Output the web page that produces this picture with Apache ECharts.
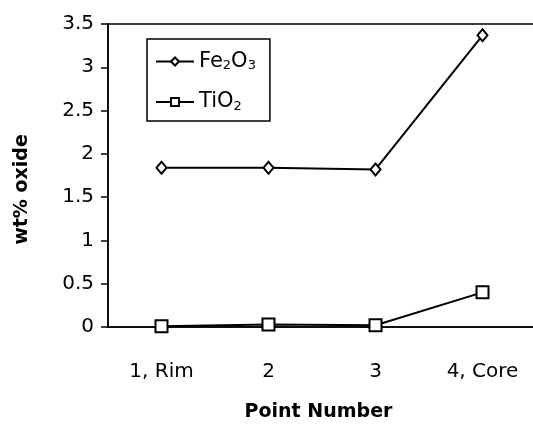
<!DOCTYPE html>
<html><head><meta charset="utf-8">
<script src="https://cdn.jsdelivr.net/npm/echarts@6/dist/echarts.min.js"></script>
<style>html,body{margin:0;padding:0;background:#fff}#c{width:533px;height:424px}</style>
</head><body><div id="c"></div>
<script>
var categories = ['1, Rim', '2', '3', '4, Core'];
var fe2o3 = [1.84, 1.84, 1.82, 3.37];
var tio2 = [0.01, 0.03, 0.02, 0.40];
var yTicks = [0, 0.5, 1, 1.5, 2, 2.5, 3, 3.5];

var chart = echarts.init(document.getElementById('c'));
var font = 'DejaVu Sans, Verdana, sans-serif';
chart.setOption({
  animation: false,
  backgroundColor: '#fff',
  grid: {left: 108, width: 428, top: 24, height: 303, show: true, borderColor: '#000', borderWidth: 1.5,
    outerBoundsMode: 'none', containLabel: false},
  legend: {
    orient: 'vertical', left: 147, top: 39,
    borderColor: '#000', borderWidth: 1.5, padding: [12, 14, 8, 8],
    itemGap: 19, itemWidth: 38, itemHeight: 10,
    textStyle: {fontFamily: font, fontSize: 21, color: '#000',
      rich: {sub: {fontSize: 13, fontFamily: font, color: '#000', verticalAlign: 'bottom', padding: [9, 0, 0, 0]},
             n: {fontSize: 21, fontFamily: font, color: '#000'}}},
    formatter: function (name) {
      if (name === 'Fe2O3') return '{n|Fe}{sub|2}{n|O}{sub|3}';
      return '{n|TiO}{sub|2}';
    },
    data: ['Fe2O3', 'TiO2']
  },
  xAxis: {
    type: 'category', data: categories, boundaryGap: true,
    axisLine: {lineStyle: {color: '#000', width: 1.5}},
    axisTick: {show: false},
    axisLabel: {fontFamily: font, fontSize: 20, color: '#000', margin: 35, interval: 0},
    name: 'Point Number', nameLocation: 'middle', nameGap: 76,
    nameTextStyle: {fontFamily: font, fontSize: 19, fontWeight: 'bold', color: '#000', padding: [0, 7, 0, 0]}
  },
  yAxis: {
    type: 'value', min: 0, max: 3.5, interval: 0.5,
    axisLine: {show: true, lineStyle: {color: '#000', width: 1.5}},
    axisTick: {show: true, length: 7, lineStyle: {color: '#000', width: 1.5}},
    splitLine: {show: false},
    axisLabel: {fontFamily: font, fontSize: 20, color: '#000', margin: 14,
      formatter: function (v) { return yTicks.indexOf(v) >= 0 ? String(v) : ''; }},
    name: 'wt% oxide', nameLocation: 'middle', nameGap: 76, nameRotate: 90,
    nameTextStyle: {fontFamily: font, fontSize: 19, fontWeight: 'bold', color: '#000', padding: [0, 28, 0, 0]}
  },
  series: [
    {name: 'Fe2O3', type: 'line', data: fe2o3, symbol: 'emptyDiamond', symbolSize: [10, 12],
      lineStyle: {color: '#000', width: 2}, itemStyle: {color: '#000', borderColor: '#000', borderWidth: 2}},
    {name: 'TiO2', type: 'line', data: tio2, symbol: 'emptyRect', symbolSize: 12,
      lineStyle: {color: '#000', width: 2}, itemStyle: {color: '#000', borderColor: '#000', borderWidth: 2}}
  ]
});
</script></body></html>
